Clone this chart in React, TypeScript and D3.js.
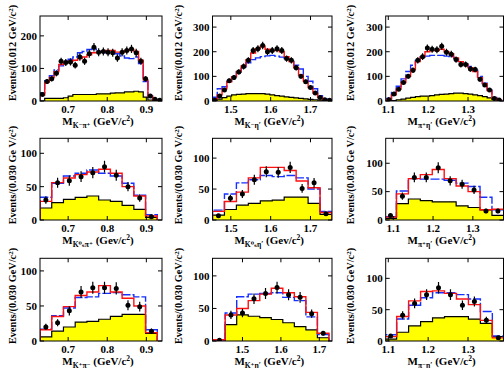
import React from "react";
import * as d3 from "d3";

// ---------- Row 1 : 0.012 GeV/c^2 bins ----------
const p1Data = [20, 60, 68, 85, 122, 118, 120, 110, 135, 122, 145, 165, 150, 152, 150, 148, 132, 150, 155, 160, 148, 122, 68, 15, 5, 2];
const p1Red = [18, 58, 72, 90, 112, 118, 122, 125, 130, 135, 142, 148, 150, 152, 155, 155, 150, 150, 155, 158, 152, 125, 65, 15, 4, 2];
const p1Blue = [25, 62, 78, 95, 108, 122, 128, 135, 148, 152, 158, 160, 152, 150, 148, 150, 145, 138, 132, 130, 135, 115, 60, 15, 5, 2];
const p1Bkg = [0, 8, 8, 8, 8, 10, 15, 20, 20, 20, 20, 20, 22, 22, 22, 24, 25, 25, 28, 28, 30, 28, 12, 3, 0, 0];

const p2Data = [3, 20, 45, 82, 95, 118, 140, 165, 205, 212, 225, 200, 205, 212, 205, 172, 165, 135, 100, 78, 55, 32, 14, 5, 3];
const p2Red = [8, 25, 50, 78, 98, 120, 142, 168, 195, 212, 222, 210, 205, 205, 200, 180, 160, 135, 105, 80, 55, 32, 14, 5, 2];
const p2Blue = [15, 50, 58, 80, 98, 118, 138, 155, 168, 175, 180, 183, 185, 182, 178, 172, 162, 145, 130, 100, 80, 50, 22, 8, 3];
const p2Bkg = [3, 8, 14, 20, 25, 27, 28, 30, 30, 30, 30, 28, 25, 22, 20, 17, 15, 13, 11, 9, 7, 5, 3, 1, 0];

const p3Data = [5, 28, 48, 75, 100, 125, 165, 180, 215, 210, 208, 222, 198, 190, 168, 148, 148, 130, 128, 88, 65, 45, 10, 4];
const p3Red = [6, 25, 48, 75, 100, 128, 160, 180, 200, 205, 205, 210, 200, 192, 175, 160, 148, 135, 120, 95, 70, 42, 12, 3];
const p3Blue = [10, 35, 60, 90, 120, 145, 165, 178, 182, 185, 185, 185, 182, 180, 172, 160, 150, 140, 125, 100, 72, 45, 14, 4];
const p3Bkg = [0, 2, 5, 8, 12, 15, 18, 20, 20, 22, 25, 27, 28, 30, 32, 32, 30, 28, 25, 22, 18, 13, 6, 2];

// ---------- Row 2 : 0.030 GeV/c^2 bins ----------
const p4Data = [30, 56, 59, 65, 71, 80, 67, 50, 33, 5];
const p4Red = [28, 56, 63, 68, 72, 76, 70, 50, 36, 6];
const p4Blue = [34, 55, 66, 70, 75, 70, 66, 55, 37, 8];
const p4Bkg = [18, 26, 31, 34, 36, 30, 28, 22, 16, 4];

const p5Data = [7, 35, 42, 65, 78, 77, 85, 51, 60, 10];
const p5Red = [14, 30, 45, 68, 85, 85, 80, 63, 52, 12];
const p5Blue = [16, 42, 60, 65, 72, 70, 72, 68, 50, 14];
const p5Bkg = [8, 17, 24, 27, 31, 32, 37, 37, 27, 9];

const p6Data = [8, 42, 75, 75, 92, 69, 63, 53, 16, 16];
const p6Red = [5, 46, 73, 80, 89, 73, 60, 50, 18, 19];
const p6Blue = [6, 51, 73, 72, 72, 70, 65, 59, 40, 18];
const p6Bkg = [3, 29, 37, 34, 32, 32, 25, 22, 18, 8];

// ---------- Row 3 : 0.030 GeV/c^2 bins ----------
const p7Data = [20, 26, 43, 70, 76, 76, 75, 51, 49, 14];
const p7Red = [16, 35, 49, 65, 70, 79, 70, 61, 50, 12];
const p7Blue = [17, 36, 47, 62, 63, 68, 69, 66, 63, 16];
const p7Bkg = [6, 14, 20, 27, 28, 31, 35, 38, 38, 11];

const p8Data = [1, 40, 43, 65, 73, 82, 71, 67, 42, 12];
const p8Red = [2, 40, 50, 62, 72, 81, 74, 68, 44, 12];
const p8Blue = [2, 43, 68, 72, 73, 74, 67, 62, 37, 10];
const p8Bkg = [0, 25, 40, 38, 36, 33, 28, 22, 17, 5];

const p9Data = [8, 41, 60, 74, 85, 74, 57, 63, 33, 5];
const p9Red = [7, 39, 64, 79, 80, 76, 67, 58, 33, 5];
const p9Blue = [10, 35, 57, 69, 77, 77, 74, 67, 47, 8];
const p9Bkg = [3, 14, 24, 31, 37, 39, 39, 35, 28, 7];

// ---------- axis settings ----------
const kpiTicks = [0.7, 0.8, 0.9];
const ketaTicks = [1.5, 1.6, 1.7];
const pietaTicks = [1.1, 1.2, 1.3];
const yTicksRow1 = [0, 100, 200, 300];
const yTicksLow = [0, 50, 100];

const subLabels = [
  ["K\u207B\u03C0\u207A", "K\u207B\u03B7\u2032", "\u03C0\u207A\u03B7\u2032"],
  ["K\u2070\u209B\u03C0\u207A", "K\u2070\u209B\u03B7\u2032", "\u03C0\u207A\u03B7\u2032"],
  ["K\u207A\u03C0\u207B", "K\u207A\u03B7\u2032", "\u03C0\u207B\u03B7\u2032"],
];
const unitLabels = ["GeV/c", "Gev/c", "GeV/c"];
const unitLabelsCol3 = ["GeV/c", "GeV/c", "GeV/c"];
const yLabelTexts = ["Events/(0.012 GeV/c", "Events/(0.030 Ge V/c", "Events/(0.030 GeV/c"];

// ---------- layout ----------
const cols = [
  { x0: 40, x1: 162, lab: 16 },
  { x0: 212.5, x1: 332, lab: 182 },
  { x0: 385.7, x1: 503.5, lab: 354 },
];
const rows = [
  { y0: 16, y1: 101, lab: 53 },
  { y0: 138.3, y1: 220, lab: 175 },
  { y0: 258.3, y1: 341, lab: 296 },
];

type Panel = {
  row: number; col: number;
  xDom: [number, number]; yMax: number;
  xTicks: number[]; yTicks: number[];
  start: number; width: number;
  data: number[]; red: number[]; blue: number[]; bkg: number[];
};

const panels: Panel[] = [
  { row: 0, col: 0, xDom: [0.628, 0.94], yMax: 261, xTicks: kpiTicks, yTicks: yTicksRow1, start: 0.628, width: 0.012, data: p1Data, red: p1Red, blue: p1Blue, bkg: p1Bkg },
  { row: 0, col: 1, xDom: [1.454, 1.754], yMax: 345, xTicks: ketaTicks, yTicks: yTicksRow1, start: 1.454, width: 0.012, data: p2Data, red: p2Red, blue: p2Blue, bkg: p2Bkg },
  { row: 0, col: 2, xDom: [1.0935, 1.389], yMax: 345, xTicks: pietaTicks, yTicks: yTicksRow1, start: 1.096, width: 0.012, data: p3Data, red: p3Red, blue: p3Blue, bkg: p3Bkg },
  { row: 1, col: 0, xDom: [0.628, 0.94], yMax: 122.5, xTicks: kpiTicks, yTicks: yTicksLow, start: 0.628, width: 0.03, data: p4Data, red: p4Red, blue: p4Blue, bkg: p4Bkg },
  { row: 1, col: 1, xDom: [1.454, 1.754], yMax: 132, xTicks: ketaTicks, yTicks: yTicksLow, start: 1.454, width: 0.03, data: p5Data, red: p5Red, blue: p5Blue, bkg: p5Bkg },
  { row: 1, col: 2, xDom: [1.081, 1.377], yMax: 144, xTicks: pietaTicks, yTicks: yTicksLow, start: 1.078, width: 0.03, data: p6Data, red: p6Red, blue: p6Blue, bkg: p6Bkg },
  { row: 2, col: 0, xDom: [0.628, 0.94], yMax: 118, xTicks: kpiTicks, yTicks: yTicksLow, start: 0.628, width: 0.03, data: p7Data, red: p7Red, blue: p7Blue, bkg: p7Bkg },
  { row: 2, col: 1, xDom: [1.422, 1.733], yMax: 127, xTicks: ketaTicks, yTicks: yTicksLow, start: 1.425, width: 0.03, data: p8Data, red: p8Red, blue: p8Blue, bkg: p8Bkg },
  { row: 2, col: 2, xDom: [1.0935, 1.389], yMax: 132, xTicks: pietaTicks, yTicks: yTicksLow, start: 1.091, width: 0.03, data: p9Data, red: p9Red, blue: p9Blue, bkg: p9Bkg },
];

const FONT = "'Liberation Serif', 'DejaVu Serif', serif";

function stepPoints(vals: number[], start: number, w: number): [number, number][] {
  const pts: [number, number][] = [[start, 0]];
  vals.forEach((v, i) => {
    pts.push([start + i * w, v]);
    pts.push([start + (i + 1) * w, v]);
  });
  pts.push([start + vals.length * w, 0]);
  return pts;
}

function PanelView({ p, idx }: { p: Panel; idx: number }) {
  const c = cols[p.col];
  const r = rows[p.row];
  const x = d3.scaleLinear().domain(p.xDom).range([c.x0, c.x1]);
  const y = d3.scaleLinear().domain([0, p.yMax]).range([r.y1, r.y0]);
  const line = d3.line<[number, number]>().x((d) => x(d[0])).y((d) => y(d[1]));
  const area = d3.area<[number, number]>().x((d) => x(d[0])).y0(y(0)).y1((d) => y(d[1]));
  const bkgPts = stepPoints(p.bkg, p.start, p.width);
  const clipId = `clip${idx}`;
  const yt = p.yTicks.filter((t) => t <= p.yMax);
  const tl = 4;
  const sub = subLabels[p.row][p.col];
  const unit = p.col === 2 ? unitLabelsCol3[p.row] : unitLabels[p.row];
  return (
    <g>
      <defs>
        <clipPath id={clipId}>
          <rect x={c.x0} y={r.y0} width={c.x1 - c.x0} height={r.y1 - r.y0} />
        </clipPath>
      </defs>
      <g clipPath={`url(#${clipId})`}>
        <path d={area(bkgPts) || ""} fill="#ffff00" stroke="none" />
        <path d={line(bkgPts) || ""} fill="none" stroke="#000" strokeWidth={1.2} />
        <path d={line(stepPoints(p.blue, p.start, p.width)) || ""} fill="none" stroke="#1530ff" strokeWidth={1.4} strokeDasharray={p.row === 0 ? "14,2" : "9,2"} />
        <path d={line(stepPoints(p.red, p.start, p.width)) || ""} fill="none" stroke="#ff1010" strokeWidth={1.4} />
        {p.data.map((v, i) => {
          const cx = x(p.start + (i + 0.5) * p.width);
          const e = Math.sqrt(Math.max(v, 1));
          return (
            <g key={i}>
              <line x1={cx} x2={cx} y1={y(Math.max(v - e, 0))} y2={y(v + e)} stroke="#000" strokeWidth={1.2} />
              <circle cx={cx} cy={y(v)} r={2.5} fill="#000" />
            </g>
          );
        })}
      </g>
      <rect x={c.x0} y={r.y0} width={c.x1 - c.x0} height={r.y1 - r.y0} fill="none" stroke="#000" strokeWidth={1} />
      {p.xTicks.map((t) => (
        <g key={"x" + t}>
          <line x1={x(t)} x2={x(t)} y1={r.y1} y2={r.y1 - tl} stroke="#000" />
          <line x1={x(t)} x2={x(t)} y1={r.y0} y2={r.y0 + tl} stroke="#000" />
          <text x={x(t)} y={r.y1 + 11.5} textAnchor="middle" fontFamily={FONT} fontWeight="bold" fontSize={11}>
            {d3.format(".1f")(t)}
          </text>
        </g>
      ))}
      {yt.map((t) => (
        <g key={"y" + t}>
          <line x1={c.x0} x2={c.x0 + tl} y1={y(t)} y2={y(t)} stroke="#000" />
          <line x1={c.x1} x2={c.x1 - tl} y1={y(t)} y2={y(t)} stroke="#000" />
          <text x={c.x0 - 3} y={y(t)} dy="0.35em" textAnchor="end" fontFamily={FONT} fontWeight="bold" fontSize={11}>
            {t}
          </text>
        </g>
      ))}
      <text x={(c.x0 + c.x1) / 2 - 3} y={r.y1 + 23.5} textAnchor="middle" fontFamily={FONT} fontWeight="bold" fontSize={11}>
        M<tspan fontSize={7.5} dy={3}>{sub}</tspan>
        <tspan dy={-3}>{" (" + unit}</tspan>
        <tspan fontSize={7.5} dy={-4}>2</tspan>
        <tspan dy={4}>)</tspan>
      </text>
      <text
        transform={`translate(${c.lab},${r.lab}) rotate(-90)`}
        textAnchor="middle"
        fontFamily={FONT}
        fontWeight="bold"
        fontSize={10.3}
      >
        {yLabelTexts[p.row]}
        <tspan fontSize={7} dy={-3.5}>2</tspan>
        <tspan dy={3.5}>)</tspan>
      </text>
    </g>
  );
}

export default function App() {
  return (
    <svg width={504} height={368} style={{ position: "absolute", left: 0, top: 0, background: "#fff" }}>
      <rect x={0} y={0} width={504} height={368} fill="#fff" />
      {panels.map((p, i) => (
        <PanelView key={i} p={p} idx={i} />
      ))}
    </svg>
  );
}
